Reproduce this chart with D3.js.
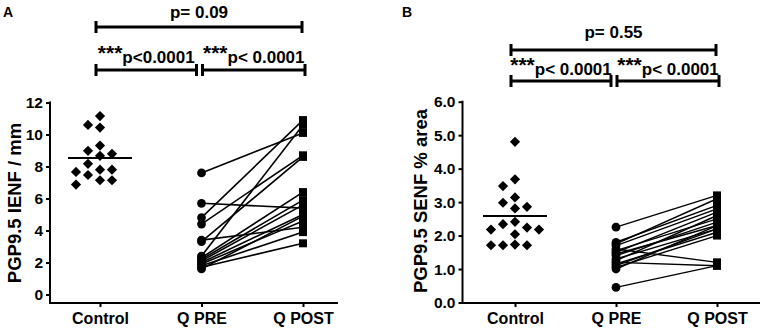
<!DOCTYPE html>
<html>
<head>
<meta charset="utf-8">
<script src="https://cdn.jsdelivr.net/npm/d3@7"></script>
<style>
  body { margin: 0; background: #fff; }
  svg { display: block; font-family: "Liberation Sans", Arial, sans-serif; font-weight: bold; }
</style>
</head>
<body>
<div id="chart"></div>
<script>
const categories = ["Control", "Q PRE", "Q POST"];

// panel A: PGP9.5 IENF / mm
const ienfControl = [11.15, 10.6, 10.43, 9.31, 8.98, 8.79, 8.67, 8.17, 7.8, 7.8, 7.66, 7.47, 7.14, 7.14, 6.87];
const ienfPre  = [7.6, 5.7, 4.8, 4.4, 3.4, 3.3, 2.4, 2.3, 2.2, 2.1, 2.0, 1.9, 1.8, 1.7, 1.6];
const ienfPost = [10.1, 5.4, 10.9, 8.7, 4.2, 8.6, 10.6, 6.4, 5.9, 5.6, 5.0, 4.6, 3.9, 3.2, 4.9];
const ienfTicks = [0, 2, 4, 6, 8, 10, 12];
const ienfTests = [
  { a: "Control", b: "Q POST", stars: "", label: "p= 0.09" },
  { a: "Control", b: "Q PRE", stars: "***", label: "p<0.0001" },
  { a: "Q PRE", b: "Q POST", stars: "***", label: "p< 0.0001" }
];

// panel B: PGP9.5 SENF % area
const senfControl = [4.8, 3.68, 3.48, 3.14, 2.98, 2.86, 2.81, 2.41, 2.34, 2.24, 2.18, 2.18, 2.04, 1.73, 1.71, 1.71, 1.71];
const senfPre  = [2.25, 1.8, 1.75, 1.7, 1.6, 1.55, 1.5, 1.45, 1.4, 1.3, 1.25, 1.2, 1.15, 1.1, 1.05, 1.0, 0.45];
const senfPost = [3.2, 2.9, 3.1, 2.8, 1.2, 2.5, 2.7, 2.3, 2.4, 2.2, 2.6, 1.1, 2.1, 2.2, 2.0, 2.3, 1.1];
const senfTicks = [0, 1, 2, 3, 4, 5, 6];
const senfTests = [
  { a: "Control", b: "Q POST", stars: "", label: "p= 0.55" },
  { a: "Control", b: "Q PRE", stars: "***", label: "p< 0.0001" },
  { a: "Q PRE", b: "Q POST", stars: "***", label: "p< 0.0001" }
];

const svg = d3.select("#chart").append("svg")
  .attr("width", 765)
  .attr("height", 330);

// simple beeswarm: slots of fixed width, first free slot nearest the centre
function swarm(values, y, step, minGap) {
  const placed = [];
  return values.map(v => {
    const py = y(v);
    let slot = 0;
    for (let k = 0; k < 20; k++) {
      const cand = k === 0 ? 0 : (k % 2 ? -Math.ceil(k / 2) : Math.ceil(k / 2));
      const hit = placed.some(p => p.slot === cand && Math.abs(p.py - py) < minGap);
      if (!hit) { slot = cand; break; }
    }
    placed.push({ slot, py });
    return { v, dx: slot * step };
  });
}

function drawPanel(cfg) {
  const g = svg.append("g");

  const x = d3.scalePoint().domain(categories).range(cfg.catRange);
  const y = d3.scaleLinear().domain(cfg.yDomain).range(cfg.yRange);

  // panel letter
  g.append("text")
    .attr("x", cfg.letterX).attr("y", 17)
    .style("font-size", "14px")
    .text(cfg.letter);

  // y axis
  const yAxis = g.append("g")
    .attr("transform", `translate(${cfg.axisX},0)`)
    .call(d3.axisLeft(y).tickValues(cfg.ticks).tickFormat(cfg.fmt).tickSize(4).tickSizeOuter(0).tickPadding(3));
  yAxis.select(".domain").remove();
  yAxis.selectAll(".tick line").attr("stroke", "#000").attr("stroke-width", 2);
  yAxis.selectAll(".tick text")
    .attr("fill", "#000")
    .style("font-size", "15.5px")
    .style("font-family", "\"Liberation Sans\", Arial, sans-serif")
    .style("font-weight", "bold");
  g.append("line")
    .attr("x1", cfg.axisX).attr("x2", cfg.axisX)
    .attr("y1", y(cfg.yDomain[1]) - 1).attr("y2", cfg.baseY + 1)
    .attr("stroke", "#000").attr("stroke-width", 2);

  // x axis
  const xAxis = g.append("g")
    .attr("transform", `translate(0,${cfg.baseY})`)
    .call(d3.axisBottom(x).tickSize(4).tickSizeOuter(0).tickPadding(6));
  xAxis.select(".domain").remove();
  xAxis.selectAll(".tick line").attr("stroke", "#000").attr("stroke-width", 2);
  xAxis.selectAll(".tick text")
    .attr("fill", "#000")
    .style("font-size", "16px")
    .style("font-family", "\"Liberation Sans\", Arial, sans-serif")
    .style("font-weight", "bold");
  g.append("line")
    .attr("x1", cfg.axisX).attr("x2", cfg.xEnd)
    .attr("y1", cfg.baseY).attr("y2", cfg.baseY)
    .attr("stroke", "#000").attr("stroke-width", 2);

  // y label
  g.append("text")
    .attr("transform", `translate(${cfg.labelX},${cfg.labelY}) rotate(-90)`)
    .attr("text-anchor", "middle")
    .style("font-size", "18.5px")
    .text(cfg.yLabel);

  // control group: swarm + mean line
  const pts = swarm(cfg.control, y, 12, 10);
  const cx = x("Control");
  const mean = d3.mean(cfg.control);
  g.append("line")
    .attr("x1", cx - 32).attr("x2", cx + 32)
    .attr("y1", y(mean)).attr("y2", y(mean))
    .attr("stroke", "#000").attr("stroke-width", 2);
  g.selectAll(".ctrl").data(pts).join("path")
    .attr("class", "ctrl")
    .attr("d", d3.symbol(d3.symbolSquare, 52))
    .attr("transform", d => `translate(${cx + d.dx},${y(d.v)}) rotate(45)`)
    .attr("fill", "#000");

  // paired pre / post
  const pairs = cfg.pre.map((v, i) => [v, cfg.post[i]]);
  g.selectAll(".pair").data(pairs).join("line")
    .attr("class", "pair")
    .attr("x1", x("Q PRE")).attr("x2", x("Q POST"))
    .attr("y1", d => y(d[0])).attr("y2", d => y(d[1]))
    .attr("stroke", "#000").attr("stroke-width", cfg.pairWidth);
  g.selectAll(".pre").data(cfg.pre).join("path")
    .attr("class", "pre")
    .attr("d", d3.symbol(d3.symbolCircle, 60))
    .attr("transform", d => `translate(${x("Q PRE")},${y(d)})`)
    .attr("fill", "#000");
  g.selectAll(".post").data(cfg.post).join("path")
    .attr("class", "post")
    .attr("d", d3.symbol(d3.symbolSquare, 64))
    .attr("transform", d => `translate(${x("Q POST")},${y(d)})`)
    .attr("fill", "#000");

  // significance brackets
  cfg.tests.forEach((t, i) => {
    const row = i === 0 ? cfg.rows[0] : cfg.rows[1];
    let x1 = x(t.a), x2 = x(t.b);
    if (i === 0) { x1 -= 4; x2 -= 1; }
    else if (i === 1) { x1 -= 4; x2 -= 5; }
    else { x1 += 1; x2 += 2; }
    const b = g.append("g").attr("stroke", "#000").attr("stroke-width", 3);
    b.append("line").attr("x1", x1).attr("x2", x2).attr("y1", row.line).attr("y2", row.line);
    b.append("line").attr("x1", x1).attr("x2", x1).attr("y1", row.line - 6).attr("y2", row.line + 6);
    b.append("line").attr("x1", x2).attr("x2", x2).attr("y1", row.line - 6).attr("y2", row.line + 6);

    const txt = g.append("text")
      .attr("x", (x1 + x2) / 2).attr("y", row.text)
      .attr("text-anchor", "middle")
      .style("font-size", "17px");
    if (t.stars) {
      txt.append("tspan").attr("dy", -3).style("font-size", "21px").text(t.stars);
      txt.append("tspan").attr("dy", 3).text(t.label);
    } else {
      txt.text(t.label);
    }
  });
}

drawPanel({
  letter: "A", letterX: 3,
  axisX: 50, xEnd: 338, baseY: 303,
  catRange: [100, 303],
  yDomain: [0, 12], yRange: [294.5, 102.5],
  ticks: ienfTicks, fmt: d3.format("d"),
  labelX: 21, labelY: 203, yLabel: "PGP9.5 IENF / mm",
  control: ienfControl, pre: ienfPre, post: ienfPost, pairWidth: 1.6,
  tests: ienfTests,
  rows: [{ line: 27, text: 18 }, { line: 70, text: 63 }]
});

drawPanel({
  letter: "B", letterX: 402,
  axisX: 462.5, xEnd: 760, baseY: 303,
  catRange: [515, 717],
  yDomain: [0, 6], yRange: [302.5, 101.7],
  ticks: senfTicks, fmt: d3.format(".1f"),
  labelX: 427, labelY: 201, yLabel: "PGP9.5 SENF % area",
  control: senfControl, pre: senfPre, post: senfPost, pairWidth: 1.4,
  tests: senfTests,
  rows: [{ line: 50, text: 38 }, { line: 81, text: 75 }]
});
</script>
</body>
</html>
